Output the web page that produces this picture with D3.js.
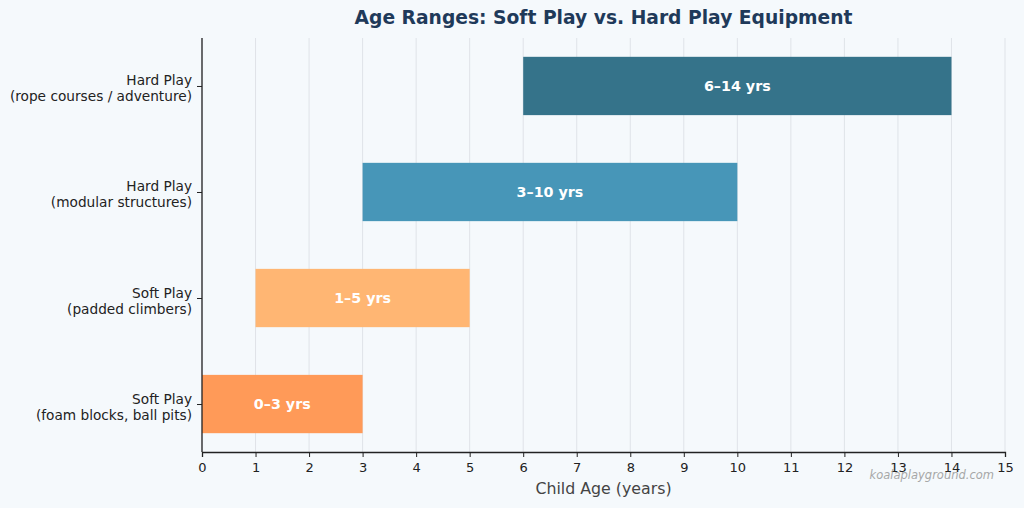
<!DOCTYPE html>
<html>
<head>
<meta charset="utf-8">
<script src="https://cdn.jsdelivr.net/npm/d3@7"></script>
<style>
	body { margin: 0; background: #f5f9fc; }
	svg { font-family: "DejaVu Sans", sans-serif; }
</style>
</head>
<body>
<svg id="chart" width="1024" height="508"></svg>
<script>
// data, bottom to top
var categories = ['Soft Play\n(foam blocks, ball pits)', 'Soft Play\n(padded climbers)', 'Hard Play\n(modular structures)', 'Hard Play\n(rope courses / adventure)'];
var startAges = [0, 1, 3, 6];
var endAges = [3, 5, 10, 14];
var barLabels = ['0–3 yrs', '1–5 yrs', '3–10 yrs', '6–14 yrs'];
var barColors = ['#ff9a58', '#ffb673', '#4796b8', '#35738a'];
var xTicks = d3.range(0, 16);

var svg = d3.select('#chart');
svg.append('rect').attr('width', 1024).attr('height', 508).attr('fill', '#f5f9fc');

var plotL = 202, plotR = 1005, plotT = 38, plotB = 452;
var x = d3.scaleLinear().domain([0, 15]).range([plotL, plotR]);
var y = d3.scaleLinear().domain([-0.4525, 3.4525]).range([plotB, plotT]);
var barH = y(0) - y(0.55);

// grid
svg.append('g').selectAll('line').data(xTicks).enter().append('line')
	.attr('x1', function(d) { return x(d); }).attr('x2', function(d) { return x(d); })
	.attr('y1', plotT).attr('y2', plotB)
	.attr('stroke', '#dfe3e8').attr('stroke-width', 1);

// bars
var bars = svg.append('g').selectAll('g').data(categories).enter().append('g');
bars.append('rect')
	.attr('x', function(d, i) { return x(startAges[i]); })
	.attr('y', function(d, i) { return y(i) - barH / 2; })
	.attr('width', function(d, i) { return x(endAges[i]) - x(startAges[i]); })
	.attr('height', barH)
	.attr('fill', function(d, i) { return barColors[i]; });
bars.append('text')
	.attr('x', function(d, i) { return x((startAges[i] + endAges[i]) / 2); })
	.attr('y', function(d, i) { return y(i); })
	.attr('dy', '0.35em')
	.attr('text-anchor', 'middle')
	.attr('fill', '#fff').attr('font-weight', 'bold').attr('font-size', 14.3)
	.text(function(d, i) { return barLabels[i]; });

// x axis
var xAxis = svg.append('g').attr('transform', 'translate(0,' + plotB + ')')
	.call(d3.axisBottom(x).tickValues(xTicks).tickSize(5).tickPadding(6).tickFormat(d3.format('d')));
xAxis.select('.domain').attr('stroke', '#222').attr('stroke-width', 1.3);
xAxis.selectAll('.tick line').attr('stroke', '#222');
xAxis.selectAll('.tick text').attr('font-size', 13).attr('fill', '#222').attr('font-family', '"DejaVu Sans", sans-serif');

// y axis
var yAxis = svg.append('g').attr('transform', 'translate(' + plotL + ',0)')
	.call(d3.axisLeft(y).tickValues([0, 1, 2, 3]).tickSize(5).tickFormat(''));
yAxis.select('.domain').attr('d', 'M0,' + plotT + 'V' + plotB).attr('stroke', '#222').attr('stroke-width', 1.3);
yAxis.selectAll('.tick line').attr('stroke', '#222');
yAxis.selectAll('.tick').each(function(d) {
	var lines = categories[d].split('\n');
	var t = d3.select(this).append('text')
		.attr('x', -10).attr('text-anchor', 'end')
		.attr('fill', '#222').attr('font-size', 13.7)
		.attr('font-family', '"DejaVu Sans", sans-serif');
	lines.forEach(function(l, k) {
		t.append('tspan').attr('x', -10).attr('y', k === 0 ? -1 : 15).text(l);
	});
});

// title and labels
svg.append('text').attr('x', (plotL + plotR) / 2).attr('y', 24)
	.attr('text-anchor', 'middle').attr('font-size', 18.7).attr('font-weight', 'bold')
	.attr('fill', '#1f3a5a').text('Age Ranges: Soft Play vs. Hard Play Equipment');
svg.append('text').attr('x', (plotL + plotR) / 2).attr('y', 494)
	.attr('text-anchor', 'middle').attr('font-size', 15.8)
	.attr('fill', '#444').text('Child Age (years)');
svg.append('text').attr('x', 994).attr('y', 479)
	.attr('text-anchor', 'end').attr('font-size', 11.5).attr('font-style', 'italic')
	.attr('fill', '#999').attr('opacity', 0.85).text('koalaplayground.com');
</script>
</body>
</html>
